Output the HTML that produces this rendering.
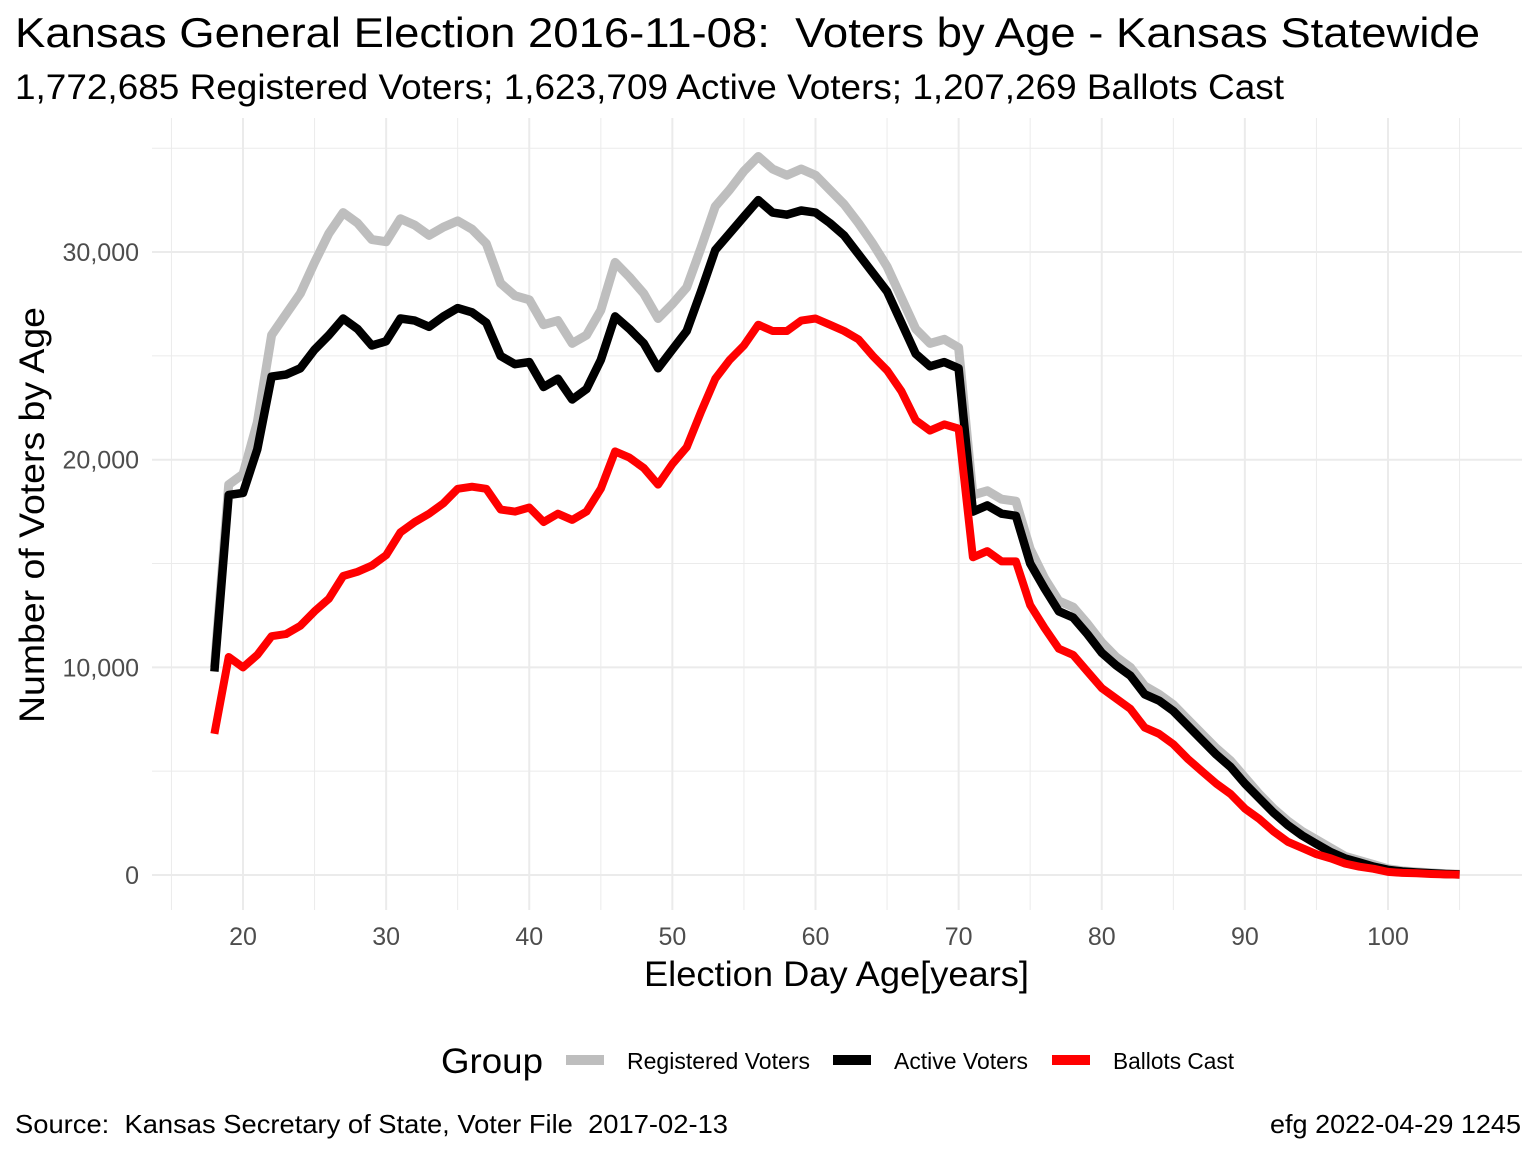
<!DOCTYPE html>
<html><head><meta charset="utf-8"><style>
body{margin:0;background:#fff;}
svg{display:block;font-family:"Liberation Sans",Arial,sans-serif;}
text{white-space:pre;}
</style></head><body>
<svg id="chart" width="1536" height="1152" viewBox="0 0 1536 1152">
<text x="15" y="47" font-size="42" textLength="1465" lengthAdjust="spacingAndGlyphs" fill="#000">Kansas General Election 2016-11-08:  Voters by Age - Kansas Statewide</text>
<text x="15" y="99" font-size="35" textLength="1269" lengthAdjust="spacingAndGlyphs" fill="#000">1,772,685 Registered Voters; 1,623,709 Active Voters; 1,207,269 Ballots Cast</text>
<g id="grid"></g>
<g id="axes"></g>
<g id="series"></g>
<text x="644" y="986" font-size="35" textLength="385" lengthAdjust="spacingAndGlyphs">Election Day Age[years]</text>
<text transform="translate(44,723) rotate(-90)" font-size="35" textLength="416" lengthAdjust="spacingAndGlyphs">Number of Voters by Age</text>
<g>
<text x="441" y="1073" font-size="35" textLength="102" lengthAdjust="spacingAndGlyphs">Group</text>
<g><line x1="566" y1="1060" x2="604" y2="1060" stroke="#bebebe" stroke-width="10"/><text x="627" y="1069" font-size="23" textLength="183" lengthAdjust="spacingAndGlyphs">Registered Voters</text></g>
<g><line x1="833" y1="1060" x2="871" y2="1060" stroke="#000" stroke-width="10"/><text x="894" y="1069" font-size="23" textLength="134" lengthAdjust="spacingAndGlyphs">Active Voters</text></g>
<g><line x1="1052" y1="1060" x2="1090" y2="1060" stroke="#ff0000" stroke-width="10"/><text x="1113" y="1069" font-size="23" textLength="121" lengthAdjust="spacingAndGlyphs">Ballots Cast</text></g>
</g>
<text x="15" y="1133" font-size="26" textLength="713" lengthAdjust="spacingAndGlyphs">Source:  Kansas Secretary of State, Voter File  2017-02-13</text>
<text x="1270" y="1133" font-size="26" textLength="251" lengthAdjust="spacingAndGlyphs">efg 2022-04-29 1245</text>
</svg>
<script>
const ages = [];
for (let a = 18; a <= 105; a++) ages.push(a);
const registered = [10000,18800,19300,21800,26000,27000,28000,29500,30900,31900,31400,30600,30500,31600,31300,30800,31200,31500,31100,30400,28500,27900,27700,26500,26700,25600,26000,27200,29500,28800,28000,26800,27500,28300,30200,32200,33000,33900,34600,34000,33700,34000,33700,33000,32300,31400,30400,29300,27800,26300,25600,25800,25400,18300,18500,18100,18000,15700,14300,13200,12900,12100,11200,10500,10000,9100,8700,8200,7500,6800,6100,5500,4700,3900,3200,2600,2100,1700,1300,900,700,500,300,200,150,100,60,40];
const active = [9800,18300,18400,20500,24000,24100,24400,25300,26000,26800,26300,25500,25700,26800,26700,26400,26900,27300,27100,26600,25000,24600,24700,23500,23900,22900,23400,24800,26900,26300,25600,24400,25300,26200,28100,30100,30900,31700,32500,31900,31800,32000,31900,31400,30800,29900,29000,28100,26600,25100,24500,24700,24400,17500,17800,17400,17300,15000,13800,12700,12400,11600,10700,10100,9600,8700,8400,7900,7200,6500,5800,5200,4400,3700,3000,2400,1900,1500,1100,800,600,400,250,170,120,80,50,30];
const ballots = [6800,10500,10000,10600,11500,11600,12000,12700,13300,14400,14600,14900,15400,16500,17000,17400,17900,18600,18700,18600,17600,17500,17700,17000,17400,17100,17500,18600,20400,20100,19600,18800,19800,20600,22300,23900,24800,25500,26500,26200,26200,26700,26800,26500,26200,25800,25000,24300,23300,21900,21400,21700,21500,15300,15600,15100,15100,13000,11900,10900,10600,9800,9000,8500,8000,7100,6800,6300,5600,5000,4400,3900,3200,2700,2100,1600,1300,1000,800,550,400,300,150,100,80,50,30,20];
const xTicks = [20,30,40,50,60,70,80,90,100];
const yTicks = [0,10000,20000,30000];
const yTickLabels = ["0","10,000","20,000","30,000"];

const NS = "http://www.w3.org/2000/svg";
const X = a => 243 + (a - 20) * 14.3125;
const Y = v => 875 - v * 0.020765;
const L = 152, R = 1522, T = 118, B = 910;
function mk(tag, attrs, parent){const e=document.createElementNS(NS,tag);for(const k in attrs)e.setAttribute(k,attrs[k]);parent.appendChild(e);return e;}
const grid = document.getElementById('grid'), axes = document.getElementById('axes'), series = document.getElementById('series');
for (let a = 15; a <= 105; a += 5) {
  const g = mk('line',{x1:X(a),x2:X(a),y1:T,y2:B,stroke:'#ebebeb','stroke-width':a%10===0?2:1},grid);
  
  
}
for (let v = 0; v <= 35000; v += 5000) {
  const g = mk('line',{x1:L,x2:R,y1:Y(v),y2:Y(v),stroke:'#ebebeb','stroke-width':v%10000===0?2:1},grid);
  
  
}
xTicks.forEach(t => {
  const e = mk('text',{x:X(t),y:945,'font-size':25,fill:'#4d4d4d','text-anchor':'middle'},axes);
  e.textContent = t;
  
  
});
yTicks.forEach((t,i) => {
  const e = mk('text',{x:139,y:Y(t)+9,'font-size':25,fill:'#4d4d4d','text-anchor':'end'},axes);
  e.textContent = yTickLabels[i];
  
  
});
function draw(vals, color, w, name){
  const d = vals.map((v,i)=>(i?'L':'M')+X(ages[i]).toFixed(1)+','+Y(v).toFixed(1)).join('');
  const p = mk('path',{d:d,fill:'none',stroke:color,'stroke-width':w,'stroke-linejoin':'round'},series);
  
  
}
draw(registered,'#bebebe',9,'registered-voters-line');
draw(active,'#000000',8.5,'active-voters-line');
draw(ballots,'#ff0000',8,'ballots-cast-line');
</script>
</body></html>
